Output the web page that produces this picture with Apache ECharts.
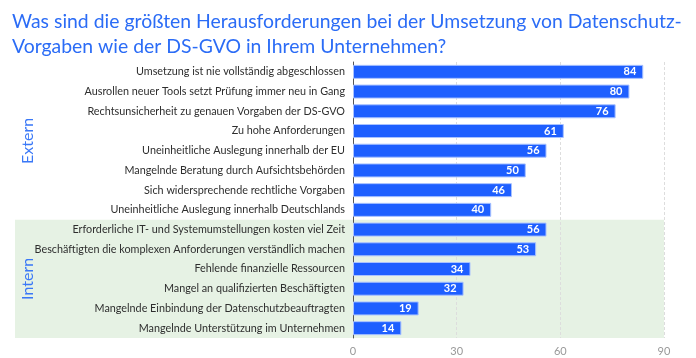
<!DOCTYPE html>
<html><head><meta charset="utf-8">
<script src="https://cdn.jsdelivr.net/npm/echarts@6/dist/echarts.min.js"></script>
<style>html,body{margin:0;padding:0;background:#fff}#c{width:696px;height:358px}</style>
</head><body><div id="c"></div>
<script>
const titleText = 'Was sind die größten Herausforderungen bei der Umsetzung von Datenschutz-\nVorgaben wie der DS-GVO in Ihrem Unternehmen?';
const categories = [
 'Umsetzung ist nie vollständig abgeschlossen',
 'Ausrollen neuer Tools setzt Prüfung immer neu in Gang',
 'Rechtsunsicherheit zu genauen Vorgaben der DS-GVO',
 'Zu hohe Anforderungen',
 'Uneinheitliche Auslegung innerhalb der EU',
 'Mangelnde Beratung durch Aufsichtsbehörden',
 'Sich widersprechende rechtliche Vorgaben',
 'Uneinheitliche Auslegung innerhalb Deutschlands',
 'Erforderliche IT- und Systemumstellungen kosten viel Zeit',
 'Beschäftigten die komplexen Anforderungen verständlich machen',
 'Fehlende finanzielle Ressourcen',
 'Mangel an qualifizierten Beschäftigten',
 'Mangelnde Einbindung der Datenschutzbeauftragten',
 'Mangelnde Unterstützung im Unternehmen'
];
const values = [84, 80, 76, 61, 56, 50, 46, 40, 56, 53, 34, 32, 19, 14];
const groups = [
 {name: 'Extern', first: 0, last: 7, shade: false},
 {name: 'Intern', first: 8, last: 13, shade: true}
];
const xTicks = [0, 30, 60, 90];

const chart = echarts.init(document.getElementById('c'));
const FONT = 'Lato, "Open Sans", sans-serif';
const grid = {left: 353, right: 32, top: 62, bottom: 20};
chart.setOption({
  animation: false,
  textStyle: {fontFamily: FONT},
  title: {text: titleText, left: 7, top: 4,
    textStyle: {color: '#2b6cf6', fontSize: 19.4, fontWeight: 'normal', lineHeight: 25, fontFamily: FONT}},
  grid: grid,
  xAxis: {type: 'value', min: xTicks[0], max: xTicks[xTicks.length - 1], interval: 30,
    axisLine: {show: false}, axisTick: {show: false},
    axisLabel: {color: '#999', fontSize: 11, margin: 8},
    splitLine: {show: true, lineStyle: {color: '#ddd', type: [3, 2]}}},
  yAxis: {type: 'category', data: categories, inverse: true,
    axisLine: {show: true, lineStyle: {color: '#555', width: 1}}, axisTick: {show: false},
    axisLabel: {color: '#2e2e2e', fontSize: 10.8, margin: 8}},
  series: [{type: 'bar', data: values, barWidth: 14,
    itemStyle: {color: '#1e5fff', borderColor: '#a9c2ff', borderWidth: 1},
    label: {show: true, position: 'insideRight', color: '#fff', fontWeight: 'bold', fontSize: 11, offset: [-2, 0]},
    z: 3}]
});

function drawGraphics() {
  const els = [];
  groups.forEach(g => {
    const yTop = chart.convertToPixel({yAxisIndex: 0}, g.first);
    const yBot = chart.convertToPixel({yAxisIndex: 0}, g.last);
    const half = (chart.convertToPixel({yAxisIndex: 0}, 1) - chart.convertToPixel({yAxisIndex: 0}, 0)) / 2;
    const x90 = chart.convertToPixel({xAxisIndex: 0}, xTicks[xTicks.length - 1]);
    if (g.shade) {
      els.push({type: 'rect', z: -10, silent: true,
        shape: {x: 15, y: yTop - half, width: x90 - 15, height: yBot - yTop + 2 * half},
        style: {fill: '#e6f2e4'}});
    }
    els.push({type: 'text', z: 10, silent: true, x: 28, y: (yTop + yBot) / 2, rotation: Math.PI / 2,
      style: {text: g.name, fill: '#3a78f7', fontSize: 16, fontFamily: FONT, align: 'center', verticalAlign: 'middle'}});
  });
  chart.setOption({graphic: {elements: els}});
}
drawGraphics();
</script></body></html>
